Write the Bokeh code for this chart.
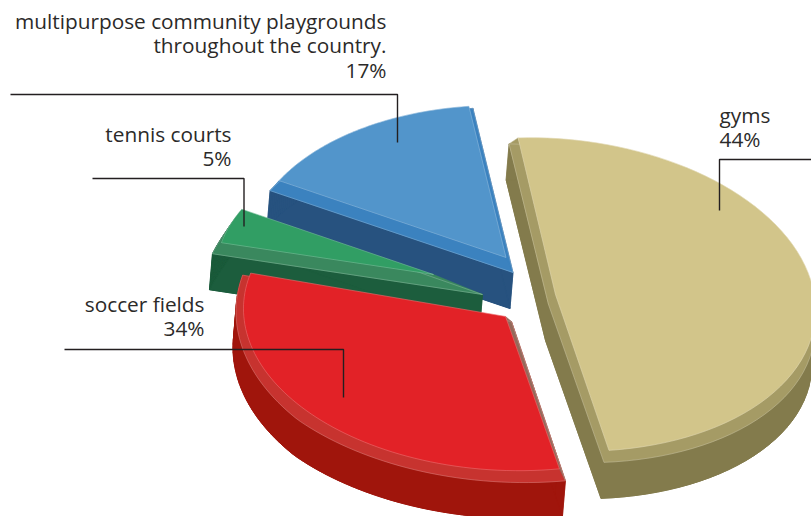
import numpy as np
from bokeh.core.properties import value
from bokeh.embed import file_html
from bokeh.plotting import figure
from bokeh.resources import INLINE

# Shares, in clockwise order starting from the first slice's upper edge
slice_names = ["gyms", "soccer fields", "tennis courts", "multipurpose"]
shares = [44, 34, 5, 17]

# Label lines for each slice; the share is appended as the last line
label_lines = [
    ["gyms"],
    ["soccer fields"],
    ["tennis courts"],
    ["multipurpose community playgrounds", "throughout the country."],
]

# Colours: top face, bevel, side wall, bevel on the opening edge
top_colors = ["#d2c58a", "#e22227", "#319e64", "#5295cb"]
rim_colors = ["#a59b65", "#c7332f", "#3a885e", "#3b82bf"]
side_colors = ["#837b4c", "#a0150c", "#1c5d3d", "#27527f"]
edge_colors = ["#a59b65", "#95695a", "#3a885e", "#3b82bf"]

# Exploded slice geometry in page pixels: apex, radii, shear from the tilted view
apex = [(555, 294), (505, 316), (433, 274), (505.5, 257)]
radii = [(260, 156), (262, 154), (218, 137), (258, 152)]
shear = [0.06, 0.03, 0.0, 0.02]
# Bevel offsets at the arc start, arc middle, arc end and apex
rim_start = [(-9, 6), (6, 12), (-9, 11), (-9, 10)]
rim_mid = [(0, 22), (-6, 11), (-4, 6), (-2, 6)]
rim_end = [(-5, 12), (-8, 2), (0, 1), (4, 2)]
rim_apex = [(-7, 10), (6, 5), (49, 20), (7, 15)]
wall = (-3, 36)

# Perspective of the disc: true angle to the angle seen on the ellipse
VIEW_START = -108.7
VIEW_CENTER = 20.0
VIEW_STRETCH = 1.2

# Leader lines and label anchors
leaders = [
    ([811, 719, 719], [159, 159, 210]),
    ([64, 343, 343], [349, 349, 397]),
    ([92, 243.5, 243.5], [178, 178, 226]),
    ([10, 397, 397], [94, 94, 142]),
]
label_anchor = [(719, 114, "left"), (204, 303, "right"), (231, 133, "right"), (386, 20, "right")]
LINE_STEP = 24.5
FONT = "Open Sans"
FONT_SIZE = "20.8px"
TEXT_COLOR = "#2b2a29"


def seen_angle(u):
    half = np.radians(u) / 2
    return VIEW_CENTER + 2 * np.degrees(np.arctan2(VIEW_STRETCH * np.sin(half), np.cos(half)))


def closed(xs, ys):
    return list(xs) + [xs[0]], list(ys) + [ys[0]]


p = figure(width=811, height=516, x_range=(0, 811), y_range=(516, 0),
           output_backend="svg", toolbar_location=None, min_border=0)
p.axis.visible = False
p.grid.visible = False
p.outline_line_color = None
p.background_fill_color = "white"

edges = VIEW_START + np.concatenate([[0], np.cumsum(shares)]) * 3.6

for i in [3, 2, 1, 0]:
    u = np.linspace(edges[i], edges[i + 1], 70)
    t = np.radians(seen_angle(u))
    ax, ay = apex[i]
    rx, ry = radii[i]
    arc_x = ax + rx * np.cos(t)
    arc_y = ay + ry * np.sin(t) + shear[i] * rx * np.cos(t)

    f = np.linspace(0, 1, 70)
    out_x = arc_x + np.interp(f, [0, 0.5, 1], [rim_start[i][0], rim_mid[i][0], rim_end[i][0]])
    out_y = arc_y + np.interp(f, [0, 0.5, 1], [rim_start[i][1], rim_mid[i][1], rim_end[i][1]])
    tip_x = ax + rim_apex[i][0]
    tip_y = ay + rim_apex[i][1]

    # Bevel outline runs apex - arc - apex
    ring_x = np.concatenate([[tip_x], out_x, [tip_x]])
    ring_y = np.concatenate([[tip_y], out_y, [tip_y]])

    # Side wall: the bevel outline swept downward, segment by segment
    quad_x = [[ring_x[j], ring_x[j + 1], ring_x[j + 1] + wall[0], ring_x[j] + wall[0]]
              for j in range(len(ring_x) - 1)]
    quad_y = [[ring_y[j], ring_y[j + 1], ring_y[j + 1] + wall[1], ring_y[j] + wall[1]]
              for j in range(len(ring_y) - 1)]
    p.patches(quad_x, quad_y, fill_color=side_colors[i], line_color=side_colors[i], line_width=0.6)
    p.patch(ring_x + wall[0], ring_y + wall[1], fill_color=side_colors[i], line_color=side_colors[i])

    # Bevel band between the outline and the top face
    p.patch(ring_x, ring_y, fill_color=rim_colors[i], line_color=rim_colors[i], line_width=0.5)
    p.patch([ax, arc_x[0], out_x[0], tip_x], [ay, arc_y[0], out_y[0], tip_y],
            fill_color=edge_colors[i], line_color=edge_colors[i], line_width=0.5)
    p.line(ring_x, ring_y, line_color="white", line_alpha=0.3, line_width=0.7)

    # Top face
    face_x = np.concatenate([[ax], arc_x])
    face_y = np.concatenate([[ay], arc_y])
    p.patch(face_x, face_y, fill_color=top_colors[i], line_color=top_colors[i], line_width=0.5)
    line_x, line_y = closed(face_x, face_y)
    p.line(line_x, line_y, line_color="white", line_alpha=0.3, line_width=0.7)

# Leaders and labels sit above every slice
for i in range(len(shares)):
    p.line(leaders[i][0], leaders[i][1], line_color="#231f20", line_width=1.4)
    x, y, align = label_anchor[i]
    lines = label_lines[i] + [f"{shares[i]}%"]
    p.text(x=[x] * len(lines), y=[y + k * LINE_STEP for k in range(len(lines))], text=lines,
           text_font=value(FONT), text_font_size=value(FONT_SIZE), text_color=TEXT_COLOR,
           text_align=align, text_baseline="alphabetic")

open("out.html", "w").write(file_html(p, INLINE))
